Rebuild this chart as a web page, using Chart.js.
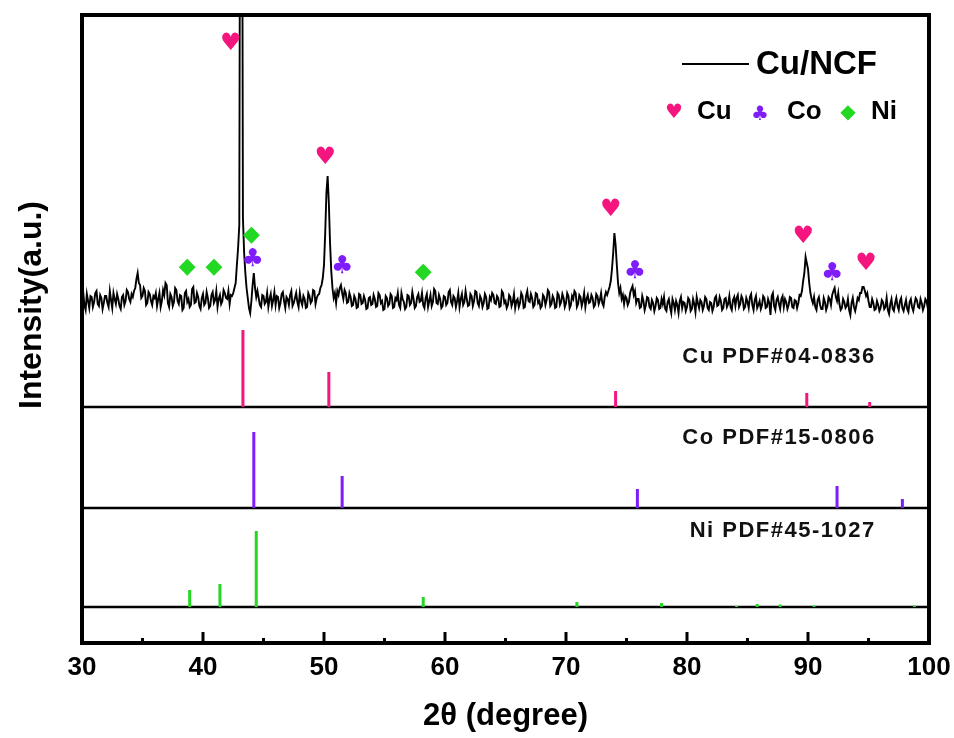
<!DOCTYPE html>
<html lang="en">
<head>
<meta charset="UTF-8">
<title>XRD Cu/NCF</title>
<script src="https://cdn.jsdelivr.net/npm/chart.js"></script>
<style>
  body { margin: 0; background: #fff; }
  #xrd { display: block; }
</style>
</head>
<body>
<canvas id="xrd" width="954" height="738"></canvas>
<script>
const scanStart = 30;
const scanStep = 0.1;
const scanCounts = [
  44, 51, 38, 33, 49, 42, 35, 47, 46, 36, 41, 50, 52, 39, 37, 48, 45, 34, 40, 47,
  47, 40, 36, 52, 43, 35, 50, 44, 39, 49, 44, 37, 34, 46, 48, 38, 42, 53, 51, 44,
  41, 49, 46, 52, 55, 64, 70, 60, 58, 45, 47, 55, 52, 38, 40, 51, 49, 42, 38, 47,
  45, 50, 37, 44, 50, 36, 42, 53, 48, 60, 58, 40, 36, 49, 46, 37, 41, 55, 53, 42,
  39, 48, 47, 33, 35, 50, 52, 41, 44, 36, 38, 54, 56, 40, 41, 50, 46, 37, 34, 45,
  49, 38, 40, 51, 45, 35, 37, 48, 51, 40, 43, 52, 36, 44, 48, 39, 42, 53, 50, 45,
  44, 52, 39, 48, 47, 50, 55, 60, 78, 95, 118, 700, 700, 125, 90, 70, 55, 45, 35, 30,
  42, 58, 70, 55, 46, 52, 45, 38, 36, 48, 47, 39, 41, 50, 36, 44, 49, 37, 43, 51,
  38, 47, 46, 35, 40, 49, 51, 42, 35, 46, 44, 38, 48, 52, 37, 40, 45, 50, 41, 36,
  50, 42, 38, 47, 44, 35, 36, 50, 47, 40, 42, 53, 52, 39, 45, 48, 49, 55, 58, 65,
  78, 110, 150, 167, 140, 100, 72, 55, 45, 50, 40, 52, 48, 55, 58, 50, 44, 53, 50, 40,
  41, 50, 46, 37, 38, 47, 44, 35, 36, 49, 48, 39, 40, 47, 43, 34, 35, 45, 46, 38,
  39, 48, 44, 36, 37, 50, 48, 40, 42, 33, 34, 47, 45, 37, 39, 49, 47, 35, 36, 45,
  43, 50, 38, 35, 50, 44, 41, 34, 36, 48, 47, 38, 40, 51, 44, 35, 37, 46, 49, 41,
  42, 50, 38, 35, 45, 49, 36, 42, 48, 37, 41, 54, 52, 40, 39, 48, 44, 35, 37, 47,
  46, 38, 40, 51, 53, 41, 38, 47, 45, 36, 42, 50, 36, 44, 49, 38, 41, 52, 44, 37,
  38, 49, 47, 37, 42, 52, 51, 40, 37, 47, 44, 36, 40, 49, 46, 34, 35, 46, 43, 50,
  48, 40, 39, 47, 45, 36, 37, 52, 50, 40, 42, 35, 38, 48, 46, 37, 41, 49, 35, 42,
  44, 36, 40, 50, 47, 35, 36, 47, 52, 42, 41, 49, 45, 36, 38, 50, 49, 40, 42, 35,
  37, 48, 46, 38, 43, 53, 51, 37, 39, 47, 44, 35, 36, 50, 48, 38, 41, 49, 45, 36,
  40, 50, 47, 35, 38, 47, 44, 52, 50, 36, 39, 48, 46, 37, 42, 50, 36, 44, 48, 40,
  41, 48, 45, 36, 38, 49, 47, 39, 43, 50, 40, 37, 46, 51, 48, 52, 56, 62, 74, 90,
  110, 98, 78, 60, 50, 55, 44, 48, 39, 47, 45, 38, 41, 50, 54, 57, 48, 52, 40, 44,
  44, 35, 36, 47, 42, 33, 38, 46, 45, 36, 34, 43, 40, 32, 37, 45, 43, 34, 35, 44,
  39, 46, 34, 32, 41, 44, 36, 30, 44, 40, 33, 42, 38, 30, 42, 46, 35, 41, 40, 32,
  36, 45, 43, 32, 34, 44, 39, 31, 46, 40, 35, 43, 41, 33, 37, 46, 44, 35, 33, 41,
  40, 32, 36, 45, 47, 37, 38, 46, 42, 33, 35, 44, 45, 36, 39, 47, 36, 33, 43, 46,
  37, 45, 48, 36, 39, 47, 44, 34, 36, 45, 41, 35, 46, 49, 38, 33, 43, 47, 35, 38,
  42, 34, 38, 47, 45, 35, 36, 44, 40, 28, 47, 50, 37, 33, 43, 46, 39, 34, 44, 47,
  36, 44, 41, 34, 38, 46, 45, 36, 35, 43, 42, 35, 40, 48, 47, 52, 62, 70, 86, 80,
  74, 60, 50, 44, 40, 46, 36, 33, 43, 46, 38, 34, 34, 45, 41, 33, 37, 46, 44, 38,
  48, 52, 55, 46, 42, 50, 39, 33, 35, 44, 41, 35, 37, 44, 33, 28, 40, 45, 36, 32,
  38, 45, 43, 50, 50, 56, 56, 52, 47, 50, 42, 36, 36, 44, 40, 33, 34, 42, 38, 32,
  35, 43, 41, 34, 36, 45, 33, 29, 39, 44, 34, 32, 40, 45, 37, 33, 42, 45, 35, 32,
  38, 43, 34, 31, 41, 44, 36, 32, 39, 45, 43, 36, 35, 44, 40, 33, 37, 44, 42, 35,
  38
];
const patternOffset = 300;

// PDF cards: line positions and heights
const cuCardTheta = [43.3, 50.4, 74.1, 89.9, 95.1];
const cuCardHeight = [77, 35, 16, 14, 5];
const coCardTheta = [44.2, 51.5, 75.9, 92.4, 97.8];
const coCardHeight = [76, 32, 19, 22, 9];
const niCardTheta = [38.9, 41.4, 44.4, 58.2, 70.9, 77.9, 84.1, 85.8, 87.7, 90.5, 98.8];
const niCardHeight = [17, 23, 76, 10, 5, 4, 1, 3, 2.5, 1.5, 1.5];
const cardBase = [236, 135, 36];   // Cu, Co, Ni baselines
const cardNames = ['Cu PDF#04-0836', 'Co PDF#15-0806', 'Ni PDF#45-1027'];
const cardLabelY = [286, 205, 112];

// phase markers above the measured peaks
const cuMarkTheta = [42.3, 50.1, 73.7, 89.6, 94.8];
const cuMarkY = [599, 485, 433, 406, 379];
const coMarkTheta = [44.1, 51.5, 75.7, 92.0];
const coMarkY = [384, 377, 372, 370];
const niMarkTheta = [38.7, 40.9, 44.0, 58.2];
const niMarkY = [376, 376, 408, 371];

const PINK = '#f5157f', PURPLE = '#7f1dfa', GREEN = '#22d822';
const FONT = '"Liberation Sans", Arial, sans-serif';
const SYM = '"DejaVu Sans", sans-serif';

function sticks(theta, height, base) {
  const pts = [];
  theta.forEach((t, i) => {
    pts.push({x: t, y: base}, {x: t, y: base + height[i]}, {x: t, y: null});
  });
  return pts;
}

const pattern = scanCounts.map((c, i) => ({x: scanStart + i * scanStep, y: c + patternOffset}));

function glyphs(ctx, xs, ys, thetas, vals, ch, color, size) {
  ctx.fillStyle = color;
  ctx.font = size + 'px ' + SYM;
  ctx.textAlign = 'center';
  ctx.textBaseline = 'middle';
  thetas.forEach((t, i) => ctx.fillText(ch, xs.getPixelForValue(t), ys.getPixelForValue(vals[i])));
}

const decor = {
  id: 'decor',
  afterDatasetsDraw(chart) {
    const {ctx, chartArea: a, scales: {x, y}} = chart;
    ctx.save();
    ctx.strokeStyle = '#000';
    // inward ticks, long every 10, short every 5
    ctx.lineWidth = 3;
    for (let v = 35; v < 100; v += 5) {
      const px = x.getPixelForValue(v);
      const len = v % 10 === 0 ? 11 : 5;
      ctx.beginPath();
      ctx.moveTo(px, a.bottom);
      ctx.lineTo(px, a.bottom - len);
      ctx.stroke();
    }
    ctx.lineWidth = 4;
    ctx.strokeRect(a.left, a.top, a.right - a.left, a.bottom - a.top);

    glyphs(ctx, x, y, cuMarkTheta, cuMarkY, '\u2665', PINK, 24);
    glyphs(ctx, x, y, coMarkTheta, coMarkY, '\u2663', PURPLE, 25);
    glyphs(ctx, x, y, niMarkTheta, niMarkY, '\u25C6', GREEN, 22);

    // card names
    ctx.fillStyle = '#111';
    ctx.font = 'bold 22px ' + FONT;
    ctx.letterSpacing = '1.5px';
    ctx.textAlign = 'right';
    ctx.textBaseline = 'middle';
    cardNames.forEach((n, i) => ctx.fillText(n, x.getPixelForValue(95.6), y.getPixelForValue(cardLabelY[i])));
    ctx.letterSpacing = '0px';

    // legend
    ctx.lineWidth = 2;
    ctx.beginPath();
    ctx.moveTo(682, 64);
    ctx.lineTo(749, 64);
    ctx.stroke();
    ctx.textAlign = 'left';
    ctx.fillStyle = '#000';
    ctx.font = 'bold 33px ' + FONT;
    ctx.fillText('Cu/NCF', 756, 65);
    ctx.font = 'bold 26px ' + FONT;
    ctx.fillText('Cu', 697, 112);
    ctx.fillText('Co', 787, 112);
    ctx.fillText('Ni', 871, 112);
    ctx.textAlign = 'center';
    ctx.font = '20px ' + SYM;
    ctx.fillStyle = PINK; ctx.fillText('\u2665', 674, 113);
    ctx.fillStyle = PURPLE; ctx.fillText('\u2663', 760, 115);
    ctx.fillStyle = GREEN; ctx.fillText('\u25C6', 848, 113);

    // y title
    ctx.fillStyle = '#000';
    ctx.font = 'bold 32px ' + FONT;
    ctx.translate(32, 305);
    ctx.rotate(-Math.PI / 2);
    ctx.fillText('Intensity(a.u.)', 0, 0);
    ctx.restore();
  }
};

function hline(base) {
  return {data: [{x: 30, y: base}, {x: 100, y: base}], borderColor: '#000', borderWidth: 2.5};
}

new Chart(document.getElementById('xrd'), {
  type: 'line',
  data: {
    datasets: [
      {label: 'Cu/NCF', data: pattern, borderColor: '#000', borderWidth: 1.9},
      {label: 'Cu', data: sticks(cuCardTheta, cuCardHeight, cardBase[0]), borderColor: PINK, borderWidth: 3, spanGaps: false},
      {label: 'Co', data: sticks(coCardTheta, coCardHeight, cardBase[1]), borderColor: PURPLE, borderWidth: 3, spanGaps: false},
      {label: 'Ni', data: sticks(niCardTheta, niCardHeight, cardBase[2]), borderColor: GREEN, borderWidth: 3, spanGaps: false},
      hline(cardBase[0]), hline(cardBase[1]), hline(cardBase[2])
    ]
  },
  options: {
    responsive: false,
    animation: false,
    layout: {padding: {top: 15, right: 25, left: 0, bottom: 0}},
    elements: {point: {radius: 0}, line: {tension: 0, borderCapStyle: 'butt'}},
    plugins: {legend: {display: false}, tooltip: {enabled: false}},
    scales: {
      x: {
        type: 'linear', min: 30, max: 100,
        grid: {display: false}, border: {display: false},
        ticks: {stepSize: 10, color: '#000', padding: 1, maxRotation: 0, font: {family: FONT, size: 26, weight: 'bold'}},
        title: {display: true, text: '2θ (degree)', color: '#000', padding: {top: 0, bottom: 3}, font: {family: FONT, size: 31, weight: 'bold'}},
        afterFit: s => { s.height = 95; s.paddingLeft = 0; s.paddingRight = 0; }
      },
      y: {
        type: 'linear', min: 0, max: 628,
        grid: {display: false}, border: {display: false},
        ticks: {display: false},
        afterFit: s => { s.width = 82; }
      }
    }
  },
  plugins: [decor]
});
</script>
</body>
</html>
